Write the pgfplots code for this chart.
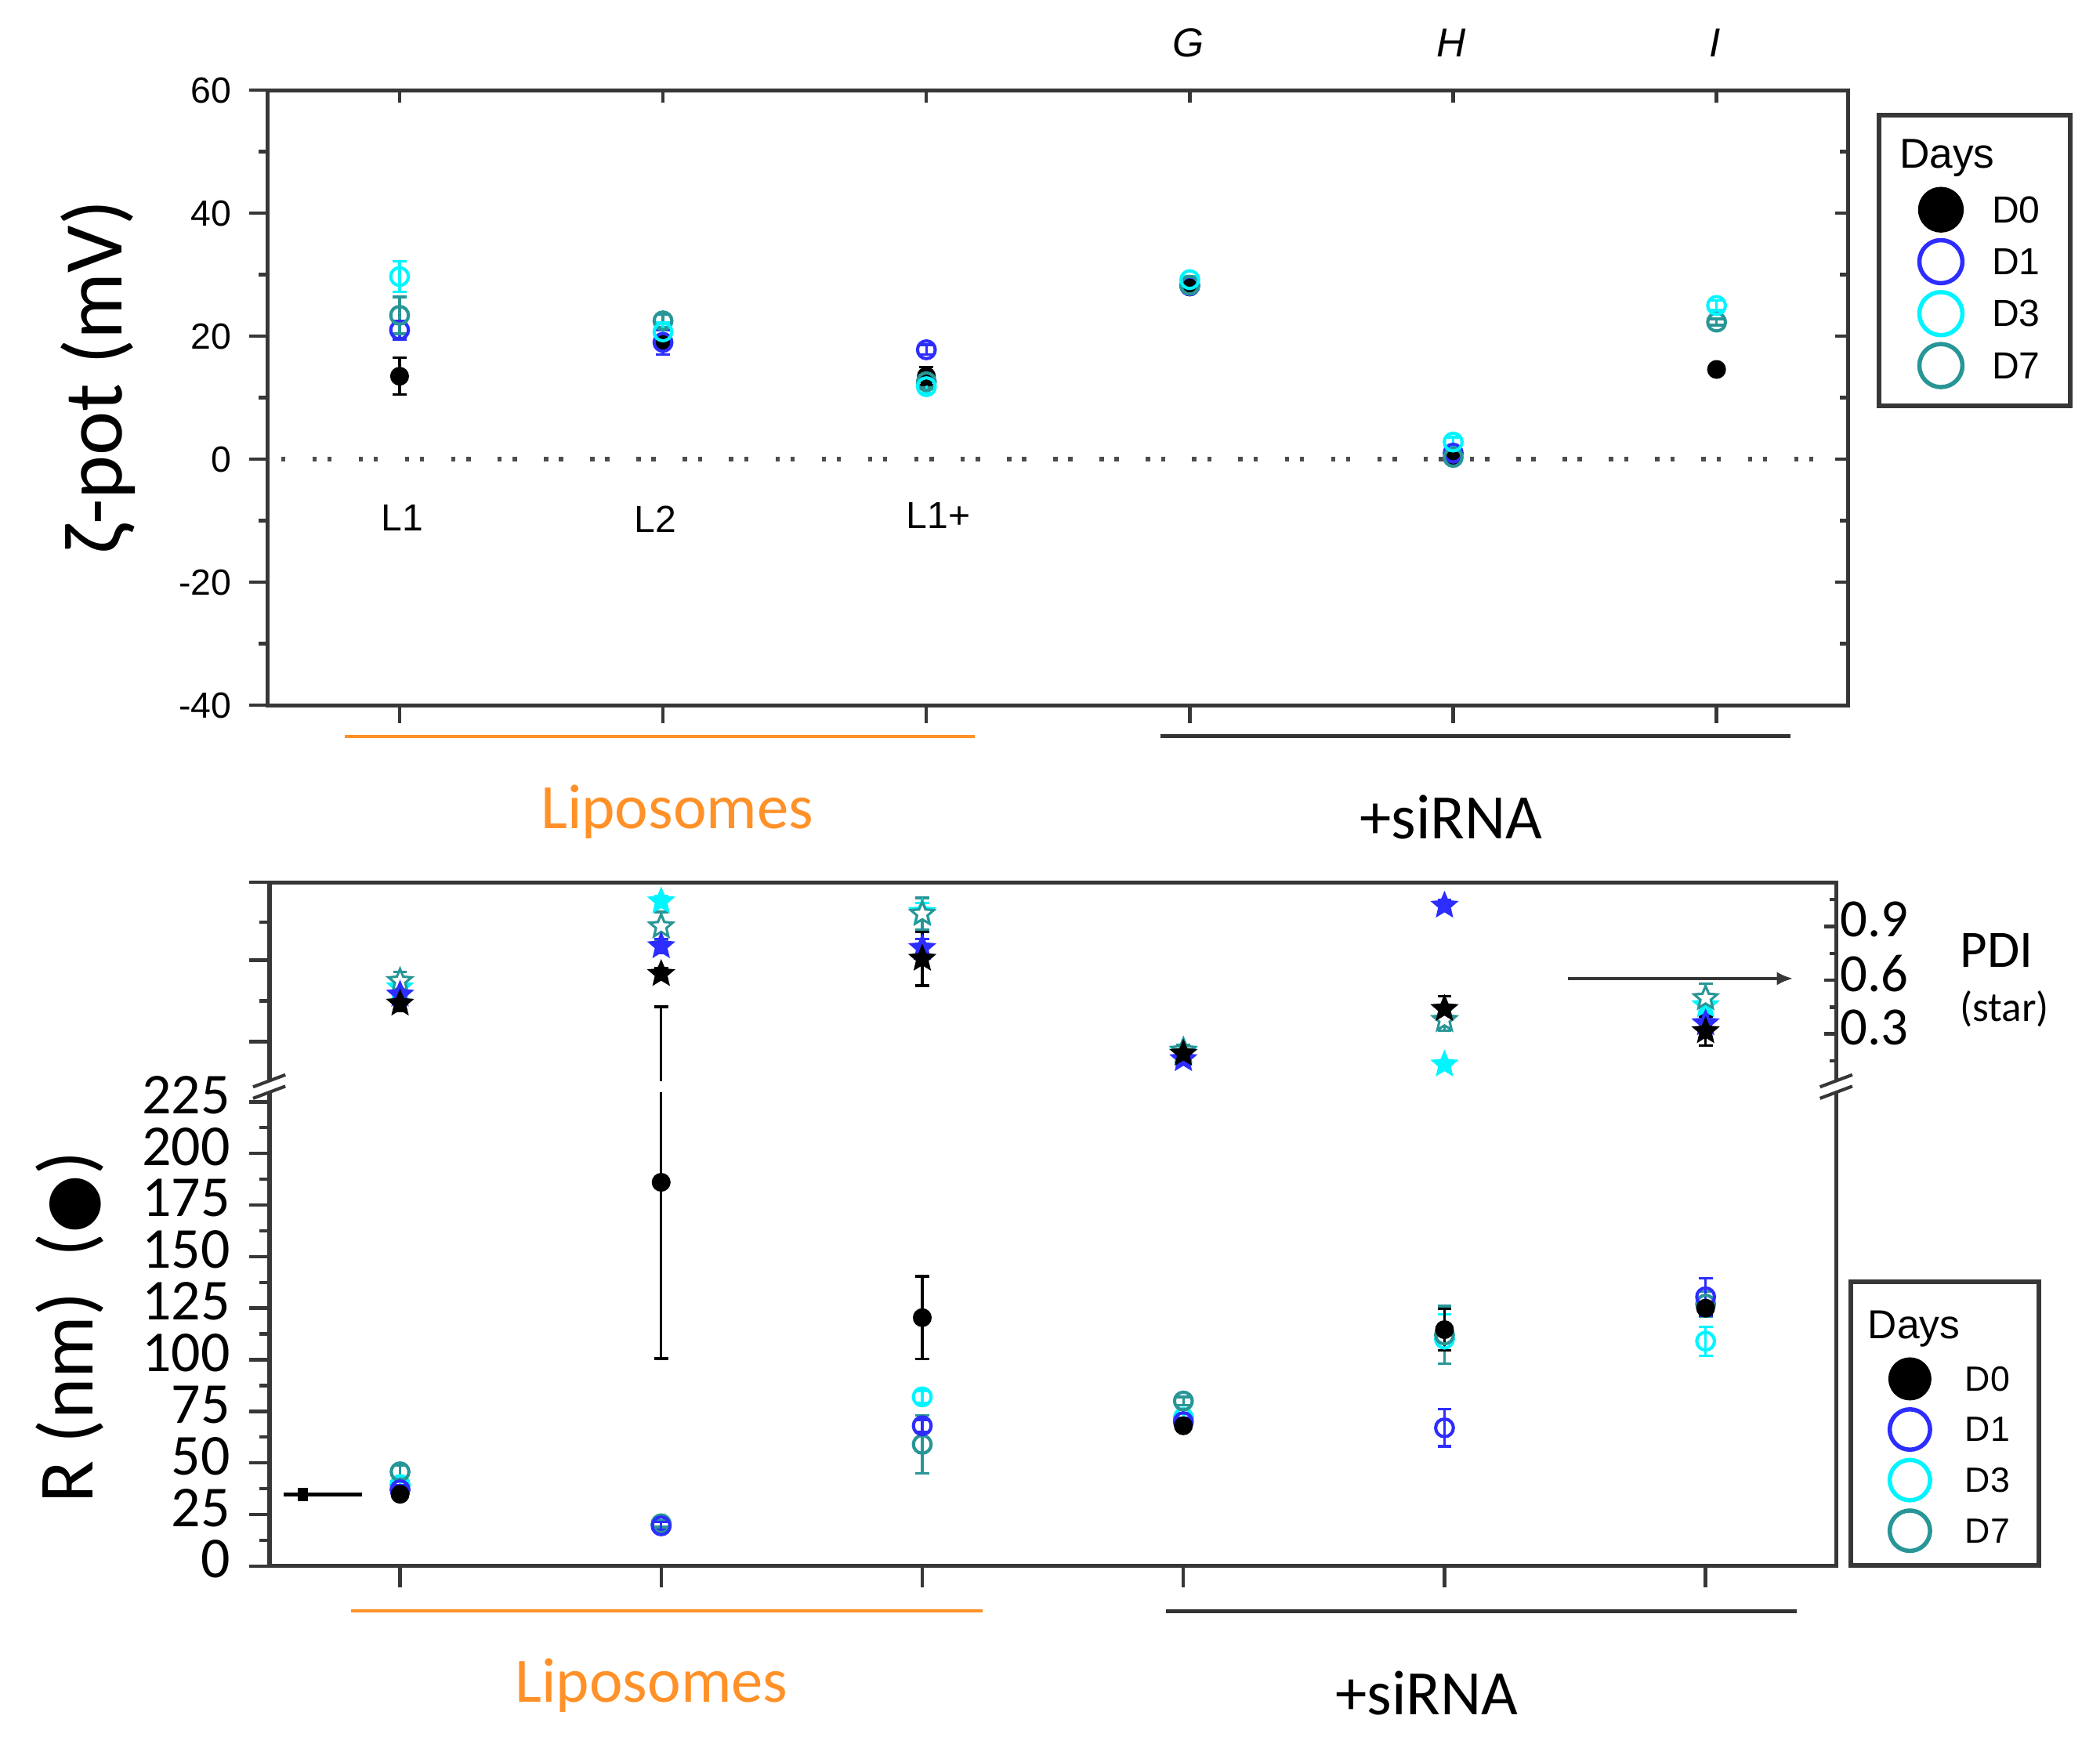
\documentclass[border=0pt]{standalone}
\usepackage{fontspec}
\setmainfont{Carlito}
\newfontfamily\arialf{Liberation Sans}
\newfontfamily\djv{DejaVu Sans}
\usepackage{pgfplots}
\pgfplotsset{compat=1.18}
\usetikzlibrary{arrows.meta}
\newcommand\fs[1]{\fontsize{#1}{#1}\selectfont}
\definecolor{cDa}{RGB}{45,45,255}
\definecolor{cDb}{RGB}{0,245,255}
\definecolor{cDc}{RGB}{40,150,150}
\definecolor{cOr}{RGB}{255,145,40}
\definecolor{axc}{RGB}{55,55,55}

\pgfdeclareplotmark{fstar}{%
  \pgfmathsetlengthmacro\rin{0.45*\pgfplotmarksize}%
  \pgfpathmoveto{\pgfqpointpolar{90}{\pgfplotmarksize}}%
  \pgfpathlineto{\pgfqpointpolar{126}{\rin}}%
  \pgfpathlineto{\pgfqpointpolar{162}{\pgfplotmarksize}}%
  \pgfpathlineto{\pgfqpointpolar{198}{\rin}}%
  \pgfpathlineto{\pgfqpointpolar{234}{\pgfplotmarksize}}%
  \pgfpathlineto{\pgfqpointpolar{270}{\rin}}%
  \pgfpathlineto{\pgfqpointpolar{306}{\pgfplotmarksize}}%
  \pgfpathlineto{\pgfqpointpolar{342}{\rin}}%
  \pgfpathlineto{\pgfqpointpolar{18}{\pgfplotmarksize}}%
  \pgfpathlineto{\pgfqpointpolar{54}{\rin}}%
  \pgfpathclose
  \pgfusepathqfillstroke
}

\pgfplotsset{
  ebar/.style={error bars/.cd, y dir=both, y explicit,
    error bar style={line width=1pt},
    error mark options={rotate=90, mark size=2.6pt, line width=1pt}},
}

\begin{document}
\begin{tikzpicture}
\path[use as bounding box] (0,0) rectangle (780pt,-645pt);

%================ TOP AXIS: zeta potential =================
\begin{axis}[
  at={(99.5pt,-33.5pt)}, anchor=north west,
  scale only axis, width=587pt, height=228.5pt,
  xmin=-0.5, xmax=5.5, ymin=-40, ymax=60,
  clip=false,
  axis line style={axc, line width=1.4pt},
  xtick=\empty,
  ytick={-40,-20,0,20,40,60},
  yticklabels={-40,-20,0,20,40,60},
  minor ytick={-30,-10,10,30,50},
  ytick pos=left, tick align=outside,
  major tick length=7pt, minor tick length=3.5pt,
  tick style={axc, line width=1.3pt},
  yticklabel style={font=\arialf\fs{13.5}, xshift=-3pt},
  legend style={at={(1.0179,0.9628)}, anchor=north west,
     draw=axc, line width=1.8pt, inner xsep=4pt, inner ysep=5.35pt,
     nodes={inner sep=0pt, text depth=}, column sep=11pt, row sep=0pt,
     font=\arialf\fs{14}},
  legend cell align=left,
  legend image code/.code={\draw[#1] plot coordinates {(0pt,0pt)};
     \path[draw=none, fill=none] (-19pt,-9.65pt) rectangle (8pt,9.65pt);},
]
% manual ticks
\pgfplotsinvokeforeach{0,...,5}{
  \draw[axc, line width=1.3pt] (axis cs:#1,-40) -- ++(0pt,-6.5pt);
  \draw[axc, line width=1.3pt] (axis cs:#1,60) -- ++(0pt,-4.7pt);
}
\pgfplotsinvokeforeach{-20,0,20,40}{
  \draw[axc, line width=1.3pt] (axis cs:5.5,#1) -- ++(-5pt,0pt);
}
\pgfplotsinvokeforeach{-30,-10,10,30,50}{
  \draw[axc, line width=1.3pt] (axis cs:5.5,#1) -- ++(-3pt,0pt);
}
\draw[gray!60!black, line width=1.6pt, dash pattern=on 1.6pt off 10pt on 1.6pt off 4pt]
  (axis cs:-0.45,0) -- (axis cs:5.45,0);

% D0
\addplot[forget plot, only marks, mark=*, black, mark size=3.3pt, ebar] coordinates {
 (0,13.5) +- (0,3.0)
 (1,18.9) +- (0,1.0)
 (2,13.5) +- (0,1.5)
 (3,28.0) +- (0,0.8)
 (4,0.5) +- (0,0.8)
 (5,14.6) +- (0,0.6)
};
% D1
\addplot[forget plot, only marks, mark=o, cDa, mark size=3.3pt, mark options={line width=1.2pt}, ebar] coordinates {
 (0,21.0) +- (0,1.5)
 (1,19.0) +- (0,2.0)
 (2,17.8) +- (0,0.8)
 (3,28.2) +- (0,0.5)
 (4,1.0) +- (0,0.5)
};
% D7
\addplot[forget plot, only marks, mark=o, cDc, mark size=3.3pt, mark options={line width=1.2pt}, ebar] coordinates {
 (0,23.4) +- (0,3.0)
 (1,22.5) +- (0,1.0)
 (2,12.6) +- (0,1.0)
 (3,28.3) +- (0,0.5)
 (4,0.3) +- (0,1.0)
 (5,22.3) +- (0,0.5)
};
% D3
\addplot[forget plot, only marks, mark=o, cDb, mark size=3.3pt, mark options={line width=1.2pt}, ebar] coordinates {
 (0,29.7) +- (0,2.5)
 (1,20.7) +- (0,1.5)
 (2,11.8) +- (0,1.0)
 (3,29.2) +- (0,0.5)
 (4,2.8) +- (0,0.8)
 (5,25.0) +- (0,0.8)
};

\addlegendimage{empty legend}
\addlegendentry{\hspace*{-34.5pt}\fs{15.5}Days\rule[-5.75pt]{0pt}{20pt}}
\addlegendimage{mark=*, mark size=8pt, black, mark options={line width=1pt}}
\addlegendentry{\makebox[25pt][l]{D0}}
\addlegendimage{mark=o, mark size=8pt, cDa, mark options={line width=1.6pt}}
\addlegendentry{\makebox[25pt][l]{D1}}
\addlegendimage{mark=o, mark size=8pt, cDb, mark options={line width=1.6pt}}
\addlegendentry{\makebox[25pt][l]{D3}}
\addlegendimage{mark=o, mark size=8pt, cDc, mark options={line width=1.6pt}}
\addlegendentry{\makebox[25pt][l]{D7}}
\end{axis}

%================ BOTTOM AXIS: R (nm) =================
\begin{axis}[
  at={(100.1pt,-327.75pt)}, anchor=north west,
  scale only axis, width=581.9pt, height=254pt,
  xmin=-0.5, xmax=5.5, ymin=0, ymax=331.4,
  clip=false,
  axis line style={axc, line width=1.5pt},
  xtick=\empty,
  ytick={0,25,50,75,100,125,150,175,200,225},
  yticklabels={0,25,50,75,100,125,150,175,200,225},
  minor ytick={12.5,37.5,...,212.5,273.9,312},
  extra y ticks={254.2,293.6,331.4}, extra y tick labels={},
  ytick pos=left, tick align=outside,
  major tick length=7.5pt, minor tick length=3.7pt,
  tick style={axc, line width=1.3pt},
  yticklabel style={font=\fs{21.5}, inner ysep=0pt, xshift=-3.6pt, yshift=2.5pt},
  legend style={at={(1.0077,-0.003)}, anchor=south west,
     draw=axc, line width=1.8pt, inner xsep=3pt, inner ysep=3.6pt,
     nodes={inner sep=0pt, text depth=}, column sep=13pt, row sep=0pt,
     font=\arialf\fs{13}},
  legend cell align=left,
  legend image code/.code={\draw[#1] plot coordinates {(0pt,0pt)};
     \path[draw=none, fill=none] (-19pt,-9.4pt) rectangle (7.5pt,9.4pt);},
]
\pgfplotsinvokeforeach{0,...,5}{
  \draw[axc, line width=1.3pt] (axis cs:#1,0) -- ++(0pt,-8pt);
}
% D3
\addplot[forget plot, only marks, mark=o, cDb, mark size=3.3pt, mark options={line width=1.2pt}, ebar] coordinates {
 (0,39.5) +- (0,2.0)
 (1,20.0) +- (0,1.5)
 (2,82.0) +- (0,3.0)
 (3,72.0) +- (0,2.0)
 (4,110.0) +- (0,12.0)
 (5,109.0) +- (0,7.0)
};
% D7
\addplot[forget plot, only marks, mark=o, cDc, mark size=3.3pt, mark options={line width=1.2pt}, ebar] coordinates {
 (0,45.7) +- (0,3.0)
 (1,20.5) +- (0,1.5)
 (2,59.0) +- (0,14.0)
 (3,80.0) +- (0,2.0)
 (4,112.0) +- (0,14.0)
 (5,127.0) +- (0,6.0)
};
% D1
\addplot[forget plot, only marks, mark=o, cDa, mark size=3.3pt, mark options={line width=1.2pt}, ebar] coordinates {
 (0,37.0) +- (0,2.0)
 (1,19.5) +- (0,2.0)
 (2,68.0) +- (0,3.0)
 (3,70.0) +- (0,2.0)
 (4,67.0) +- (0,9.0)
 (5,130.5) +- (0,9.0)
};
% D0
\addplot[forget plot, only marks, mark=*, black, mark size=3.3pt, ebar] coordinates {
 (0,34.8) +- (0,2.0)
 (1,186.0) += (0,85.0) -= (0,85.5)
 (2,120.4) +- (0,20.0)
 (3,68.0) +- (0,2.0)
 (4,114.6) +- (0,10.0)
 (5,125.0) +- (0,3.0)
};

\addlegendimage{empty legend}
\addlegendentry{\hspace*{-39pt}\fs{15}Days\rule[-5.5pt]{0pt}{23pt}}
\addlegendimage{mark=*, mark size=7.5pt, black, mark options={line width=1pt}}
\addlegendentry{\makebox[24.5pt][l]{D0}}
\addlegendimage{mark=o, mark size=7.5pt, cDa, mark options={line width=1.6pt}}
\addlegendentry{\makebox[24.5pt][l]{D1}}
\addlegendimage{mark=o, mark size=7.5pt, cDb, mark options={line width=1.6pt}}
\addlegendentry{\makebox[24.5pt][l]{D3}}
\addlegendimage{mark=o, mark size=7.5pt, cDc, mark options={line width=1.6pt}}
\addlegendentry{\makebox[24.5pt][l]{D7}}
\end{axis}

%================ BOTTOM AXIS overlay: PDI (stars) =================
\begin{axis}[
  at={(100.1pt,-327.75pt)}, anchor=north west,
  scale only axis, width=581.9pt, height=254pt,
  xmin=-0.5, xmax=5.5, ymin=-2.668, ymax=1.146,
  clip=false,
  hide x axis,
  axis line style={draw=none},
  ytick={0.3,0.6,0.9}, yticklabels={0.3,0.6,0.9},
  minor ytick={0.15,0.45,0.75,1.05},
  ytick pos=right, yticklabel pos=right,
  tick align=inside, major tick length=4.5pt, minor tick length=2.5pt,
  tick style={axc, line width=1.3pt},
  yticklabel style={font=\fs{20}, xshift=-2pt, yshift=2.5pt},
]
% D3
\addplot[only marks, mark=fstar, cDb, mark size=4.5pt, mark options={line width=0.8pt}, ebar] coordinates {
 (0,0.56) +- (0,0.04)
 (1,1.04) +- (0,0.03)
 (2,0.98) +- (0,0.05)
 (3,0.20) +- (0,0.02)
 (4,0.13) +- (0,0.02)
 (5,0.46) +- (0,0.05)
};
% D7
\addplot[only marks, mark=fstar, cDc, mark size=4.5pt, mark options={line width=0.9pt, fill=white}, ebar] coordinates {
 (0,0.595) +- (0,0.05)
 (1,0.90) +- (0,0.08)
 (2,0.97) +- (0,0.09)
 (3,0.207) +- (0,0.03)
 (4,0.378) +- (0,0.06)
 (5,0.50) +- (0,0.08)
};
% D1
\addplot[only marks, mark=fstar, cDa, mark size=4.5pt, mark options={line width=0.8pt}, ebar] coordinates {
 (0,0.52) +- (0,0.03)
 (1,0.79) +- (0,0.04)
 (2,0.78) +- (0,0.05)
 (3,0.16) +- (0,0.03)
 (4,1.016) +- (0,0.03)
 (5,0.36) +- (0,0.05)
};
% D0
\addplot[only marks, mark=fstar, black, mark size=4.5pt, mark options={line width=0.8pt}, ebar] coordinates {
 (0,0.47) +- (0,0.04)
 (1,0.635) +- (0,0.03)
 (2,0.72) +- (0,0.15)
 (3,0.19) +- (0,0.02)
 (4,0.44) +- (0,0.07)
 (5,0.316) +- (0,0.08)
};
\end{axis}

%================ annotations (display coordinates) =================
\begin{scope}[x=0.5pt,y=-0.5pt]
% top plot labels
\node[rotate=90, font=\fs{31}] at (73,280) {ζ-pot (mV)};
\node[font=\arialf\itshape\fs{15}] at (883,32) {G};
\node[font=\arialf\itshape\fs{15}] at (1078,32) {H};
\node[font=\arialf\itshape\fs{15}] at (1274,32) {I};
\node[font=\arialf\fs{14}] at (299,385) {L1};
\node[font=\arialf\fs{14}] at (487,386) {L2};
\node[font=\arialf\fs{14}] at (697,383) {L1+};
\draw[cOr, line width=1.2pt] (256,547) -- (724,547);
\draw[black!80, line width=1.5pt] (862,547) -- (1330,547);
\node[cOr, font=\fs{23.5}] at (503,603) {Liposomes};
\node[font=\fs{23.5}] at (1078,607) {+siRNA};

% bottom plot labels
\node[rotate=90, font=\fs{29}] at (52,986) {R (nm)\ \ ({\djv\fs{25}●})};
\node[font=\fs{19.5}] at (1483,706) {PDI};
\node[font=\fs{15.5}] at (1489,749.5) {(star)};
\draw[axc, line width=1.3pt, -{Latex[length=6pt,width=5pt]}] (1165,727) -- (1332,727);
\draw[black, line width=1.4pt] (211,1110.3) -- (269,1110.3);
\draw[black, line width=1.4pt, {Square[length=3.8pt,width=5pt]}-] (221,1110.3) -- (240,1110.3);
\draw[cOr, line width=1.2pt] (261,1197) -- (730,1197);
\draw[black!80, line width=1.5pt] (866,1197) -- (1335,1197);
\node[cOr, font=\fs{23.5}] at (484,1252) {Liposomes};
\node[font=\fs{23.5}] at (1060,1258) {+siRNA};

% axis break
\fill[white] (189,803) rectangle (1378,811.5);
\draw[axc, line width=1.2pt] (188,807.5) -- (212,798.5);
\draw[axc, line width=1.2pt] (188,816) -- (212,807);
\draw[axc, line width=1.2pt] (1352,807.5) -- (1376,798.5);
\draw[axc, line width=1.2pt] (1352,816) -- (1376,807);
\end{scope}
\end{tikzpicture}
\end{document}
